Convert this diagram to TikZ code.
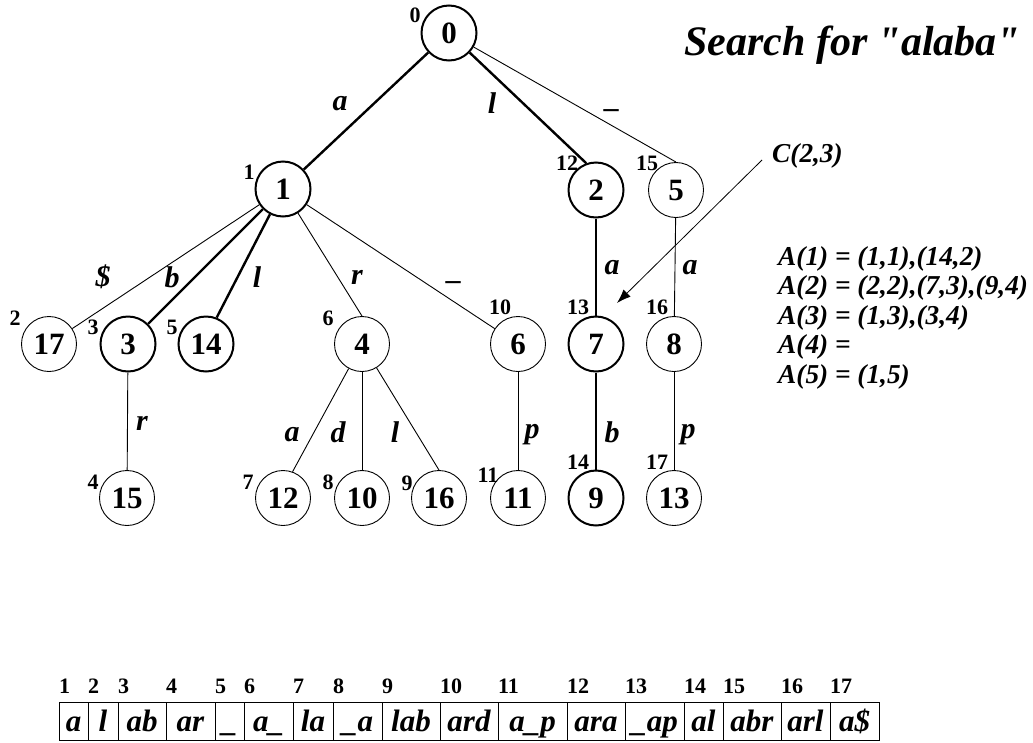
\documentclass[tikz,border=0pt]{standalone}
\usepackage{fontspec}
\setmainfont{Liberation Serif}
\newfontfamily\plainserif{Liberation Serif}[Ligatures=TeXOff]
\usetikzlibrary{arrows.meta}
\begin{document}
\begin{tikzpicture}[x=1pt,y=-1pt,
  nd/.style={circle,draw,line width=0.9pt,minimum size=55pt,inner sep=0pt,font=\fontsize{31}{31}\selectfont\bfseries},
  hn/.style={nd,line width=2pt},
  idx/.style={inner sep=0pt,font=\fontsize{22}{22}\selectfont\bfseries},
  el/.style={inner sep=0pt,font=\fontsize{30}{30}\selectfont\bfseries\itshape},
  te/.style={line width=0.9pt},
  he/.style={line width=2.4pt},
  cell/.style={draw,line width=0.9pt,minimum height=37.5pt,inner sep=0pt,text height=21pt,text depth=0pt,font=\fontsize{31}{31}\selectfont\bfseries\itshape},
  cnum/.style={inner sep=0pt,anchor=base west,font=\fontsize{22}{22}\selectfont\bfseries},
  rt/.style={inner sep=0pt,anchor=base west,font=\fontsize{27.3}{27.3}\selectfont\bfseries\itshape}]
\useasboundingbox (0,0) rectangle (1033,742);
% tree nodes
\node[hn] (n0) at (449,33) {0};
\node[hn] (n1) at (283,189) {1};
\node[hn] (n2) at (596,190) {2};
\node[nd] (n5) at (676,190) {5};
\node[nd] (n17) at (49,344) {17};
\node[hn] (n3) at (128,344) {3};
\node[hn] (n14) at (206,344) {14};
\node[nd] (n4) at (362,344) {4};
\node[nd] (n6) at (518,344) {6};
\node[hn] (n7) at (596,344) {7};
\node[nd] (n8) at (674,344) {8};
\node[nd] (n15) at (127,498) {15};
\node[nd] (n12) at (283,498) {12};
\node[nd] (n10) at (362,498) {10};
\node[nd] (n16) at (439,498) {16};
\node[nd] (n11) at (518,498) {11};
\node[hn] (n9) at (596,498) {9};
\node[nd] (n13) at (674,498) {13};
% index labels
\node[idx] (i0) at (415,15) {0};
\node[idx] (i1) at (249,172) {1};
\node[idx] (i17) at (15,318) {2};
\node[idx] (i3) at (93,327) {3};
\node[idx] (i14) at (172,327) {5};
\node[idx] (i4) at (328,318) {6};
\node[idx] (i6) at (500,307) {10};
\node[idx] (i7) at (578,307) {13};
\node[idx] (i8) at (657,307) {16};
\node[idx] (i2) at (567,163) {12};
\node[idx] (i5) at (647,163) {15};
\node[idx] (i15) at (93,482) {4};
\node[idx] (i12) at (248,482) {7};
\node[idx] (i10) at (328,482) {8};
\node[idx] (i16) at (407,483) {9};
\node[idx] (i11) at (488,475) {11};
\node[idx] (i9) at (578,462) {14};
\node[idx] (i13) at (657,462) {17};
% edges
\draw[he] (n0) -- (n1);
\draw[he] (n0) -- (n2.110);
\draw[te] (n0) -- (n5.north);
\draw[te] (n1) -- (n17);
\draw[he] (n1) -- (n3);
\draw[he] (n1) -- (n14.68);
\draw[te] (n1) -- (n4.north);
\draw[te] (n1) -- (n6);
\draw[te] (n3) -- (n15);
\draw[te] (n4) -- (n12.70);
\draw[te] (n4) -- (n10);
\draw[te] (n4) -- (n16.north);
\draw[te] (n6) -- (n11);
\draw[he] (n2) -- (n7);
\draw[he] (n7) -- (n9);
\draw[te] (n5) -- (n8);
\draw[te] (n8) -- (n13);
% edge labels
\node[el] (l01) at (340,104) {a};
\node[el] (l02) at (492,103) {l};
\node[el] (l05) at (613,110) {\_};
\node[el] (l117) at (103,277) {\$};
\node[el] (l13) at (172,277) {b};
\node[el] (l114) at (257,277) {l};
\node[el] (l14) at (357,277) {r};
\node[el] (l16) at (455,282) {\_};
\node[el] (l27) at (612,268) {a};
\node[el] (l58) at (690,268) {a};
\node[el] (l315) at (142,423) {r};
\node[el] (l412) at (292,435) {a};
\node[el] (l410) at (338,432) {d};
\node[el] (l416) at (395,432) {l};
\node[el] (l611) at (532,435) {p};
\node[el] (l79) at (612,432) {b};
\node[el] (l813) at (688,435) {p};
% title and notes
\node[inner sep=0pt,anchor=base west,font=\plainserif\fontsize{42}{42}\selectfont\bfseries\itshape] (title) at (684,55) {Search for "alaba"};
\node[rt] (cl) at (772,162) {C(2,3)};
\coordinate (ctail) at (762,160);
\coordinate (ctip) at (617,303);
\draw[line width=0.8pt,-{Latex[length=14pt,width=10pt]}] (ctail) -- (ctip);
\node[rt] (a1) at (778,265) {A(1) = (1,1),(14,2)};
\node[rt] (a2) at (778,294.5) {A(2) = (2,2),(7,3),(9,4)};
\node[rt] (a3) at (778,324) {A(3) = (1,3),(3,4)};
\node[rt] (a4) at (778,353.5) {A(4) =};
\node[rt] (a5) at (778,383) {A(5) = (1,5)};
% table
\foreach \i/\l/\r/\t in {1/59/88/a,2/88/118/l,3/118/166/ab,4/166/215/ar,5/215/244/\_,6/244/293/a\_,7/293/333/la,8/333/382/\_a,9/382/440/lab,10/440/498/ard,11/498/567/a\_p,12/567/625/ara,13/625/684/\_ap,14/684/723/al,15/723/781/abr,16/781/830/arl,17/830/879/a\$}{
  \pgfmathsetmacro{\w}{\r-\l}
  \pgfmathsetmacro{\c}{(\l+\r)/2}
  \node[cell,minimum width=\w pt] (c\i) at (\c,721.4) {\t};
  \node[cnum] (cn\i) at (\l,693) {\i};
}
\end{tikzpicture}
\end{document}
